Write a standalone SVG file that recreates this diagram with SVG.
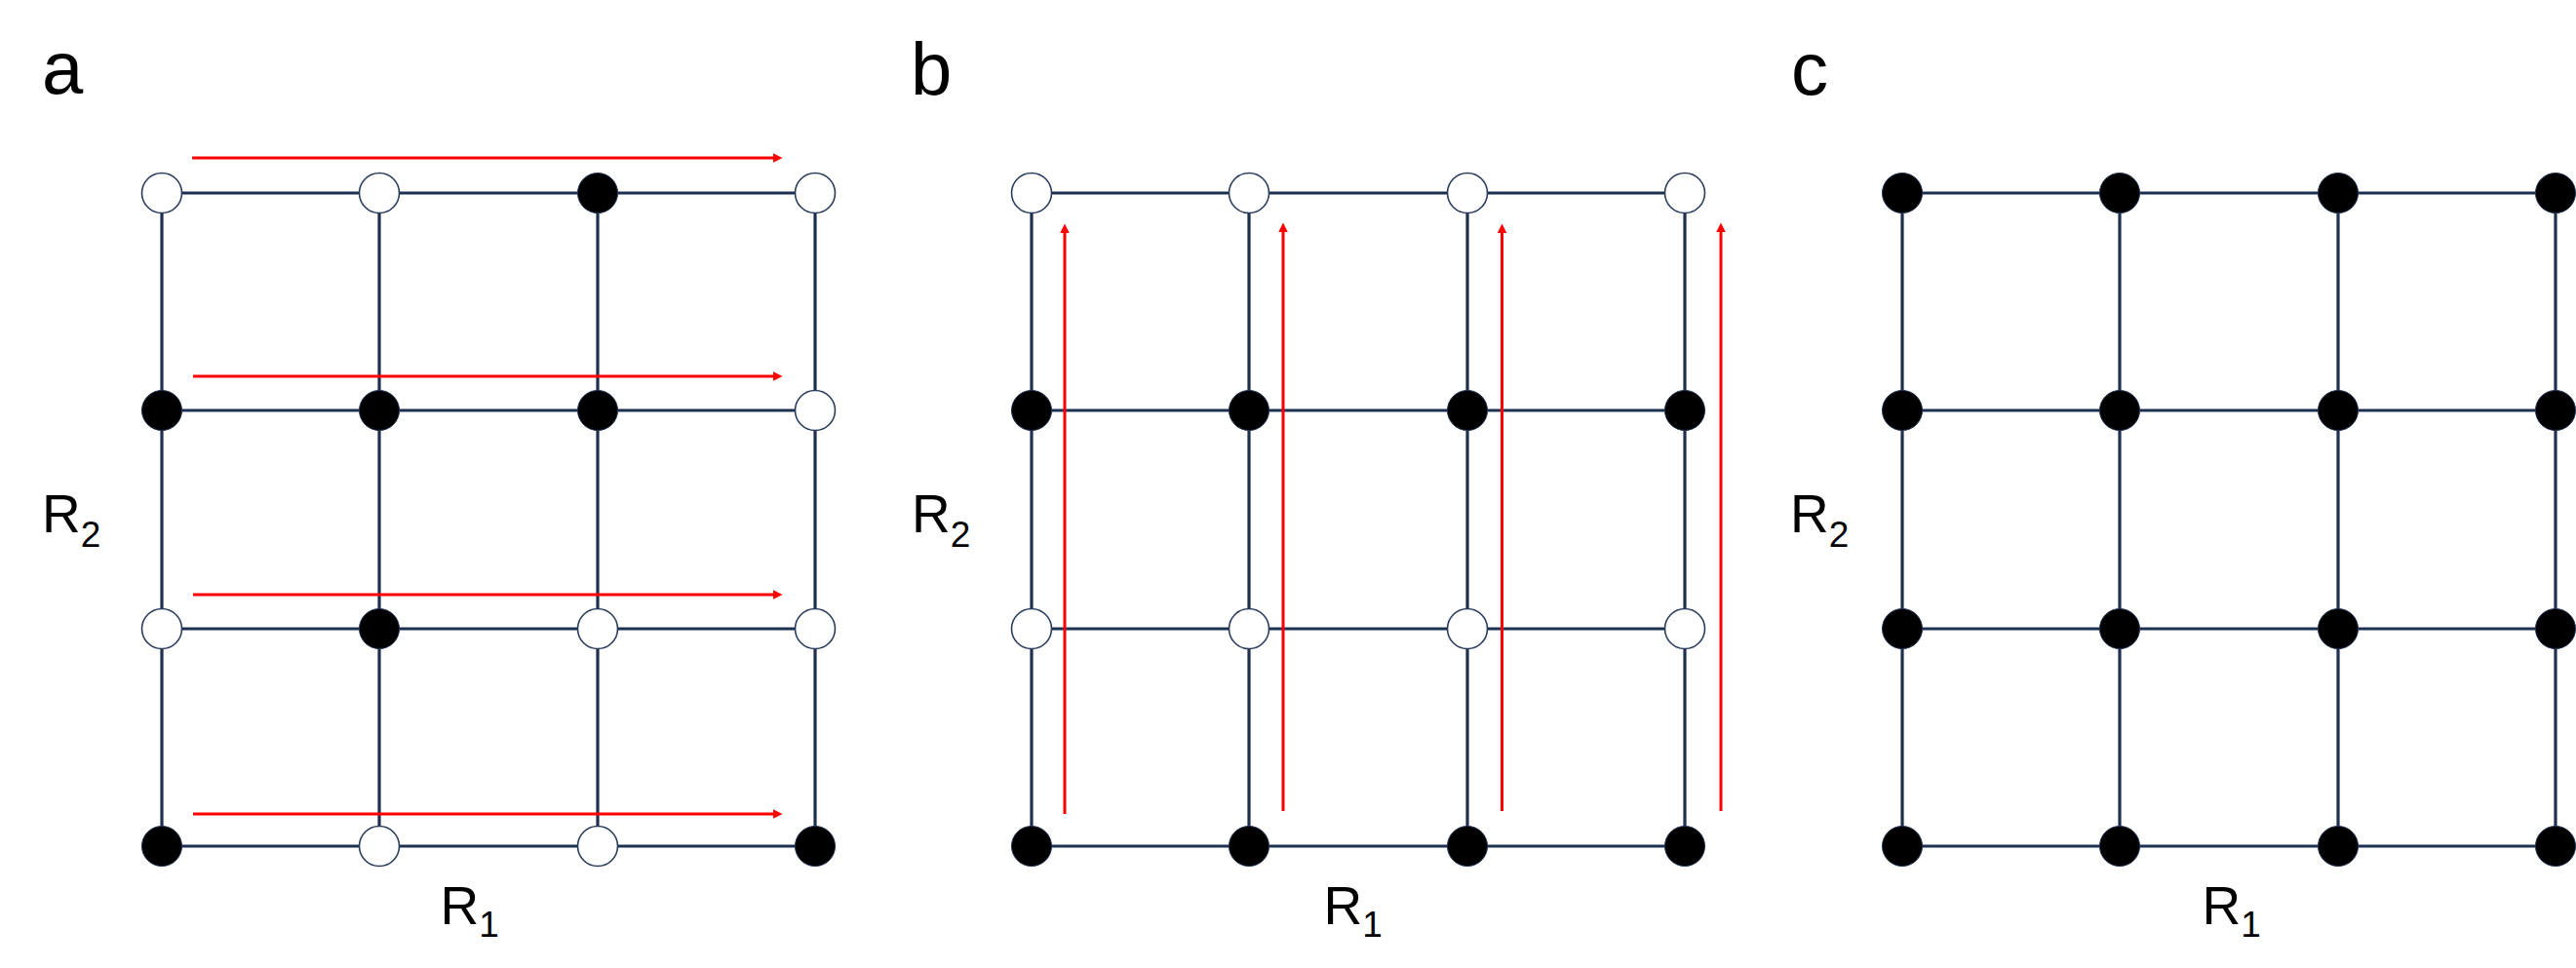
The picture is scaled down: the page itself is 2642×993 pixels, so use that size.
<svg xmlns="http://www.w3.org/2000/svg" width="2642" height="993" viewBox="0 0 2642 993">
<style>
.bg{fill:#fff}
.grid{stroke:#1E3050;stroke-width:3.2;fill:none}
.red{stroke:#FF0000;stroke-width:3;fill:none;marker-end:url(#ah)}
.w{fill:#fff;stroke:#2A3C5E;stroke-width:1.6}
.k{fill:#000;stroke:#1E3050;stroke-width:1}
.lbl{font-family:"Liberation Sans",Arial,sans-serif;fill:#000}
.pl{font-size:76px}
.ax{font-size:55px}
.sub{font-size:37px}
</style>
<defs>
<marker id="ah" markerUnits="userSpaceOnUse" markerWidth="10" markerHeight="10" refX="3" refY="4.75" orient="auto" overflow="visible">
<path d="M0,0 L9.5,4.75 L0,9.5 z" fill="#FF0000"/>
</marker>
</defs>
<rect class="bg" x="0" y="0" width="2642" height="993"/>
<g id="connectors">
<g id="grid-a" class="grid">
<path d="M166,198H836M166,421H836M166,645H836M166,868H836M166,198V868M389,198V868M613,198V868M836,198V868"/>
</g>
<g id="grid-b" class="grid">
<path d="M1058,198H1728M1058,421H1728M1058,645H1728M1058,868H1728M1058,198V868M1281,198V868M1505,198V868M1728,198V868"/>
</g>
<g id="grid-c" class="grid">
<path d="M1951,198H2621M1951,421H2621M1951,645H2621M1951,868H2621M1951,198V868M2174,198V868M2398,198V868M2621,198V868"/>
</g>
<g id="arrows-a">
<line class="red" x1="197" y1="162" x2="796" y2="162"/>
<line class="red" x1="198" y1="386" x2="796" y2="386"/>
<line class="red" x1="198" y1="610" x2="796" y2="610"/>
<line class="red" x1="198" y1="835" x2="796" y2="835"/>
</g>
<g id="arrows-b">
<line class="red" x1="1092" y1="835" x2="1092" y2="236"/>
<line class="red" x1="1316" y1="832" x2="1316" y2="235"/>
<line class="red" x1="1540.5" y1="832" x2="1540.5" y2="236"/>
<line class="red" x1="1765" y1="832" x2="1765" y2="235"/>
</g>
</g>
<g id="nodes-a">
<g id="a-r1c1"><circle class="w" cx="166" cy="198" r="20.5"/></g>
<g id="a-r1c2"><circle class="w" cx="389" cy="198" r="20.5"/></g>
<g id="a-r1c3"><circle class="k" cx="613" cy="198" r="20.5"/></g>
<g id="a-r1c4"><circle class="w" cx="836" cy="198" r="20.5"/></g>
<g id="a-r2c1"><circle class="k" cx="166" cy="421" r="20.5"/></g>
<g id="a-r2c2"><circle class="k" cx="389" cy="421" r="20.5"/></g>
<g id="a-r2c3"><circle class="k" cx="613" cy="421" r="20.5"/></g>
<g id="a-r2c4"><circle class="w" cx="836" cy="421" r="20.5"/></g>
<g id="a-r3c1"><circle class="w" cx="166" cy="645" r="20.5"/></g>
<g id="a-r3c2"><circle class="k" cx="389" cy="645" r="20.5"/></g>
<g id="a-r3c3"><circle class="w" cx="613" cy="645" r="20.5"/></g>
<g id="a-r3c4"><circle class="w" cx="836" cy="645" r="20.5"/></g>
<g id="a-r4c1"><circle class="k" cx="166" cy="868" r="20.5"/></g>
<g id="a-r4c2"><circle class="w" cx="389" cy="868" r="20.5"/></g>
<g id="a-r4c3"><circle class="w" cx="613" cy="868" r="20.5"/></g>
<g id="a-r4c4"><circle class="k" cx="836" cy="868" r="20.5"/></g>
</g>
<g id="nodes-b">
<g id="b-r1c1"><circle class="w" cx="1058" cy="198" r="20.5"/></g>
<g id="b-r1c2"><circle class="w" cx="1281" cy="198" r="20.5"/></g>
<g id="b-r1c3"><circle class="w" cx="1505" cy="198" r="20.5"/></g>
<g id="b-r1c4"><circle class="w" cx="1728" cy="198" r="20.5"/></g>
<g id="b-r2c1"><circle class="k" cx="1058" cy="421" r="20.5"/></g>
<g id="b-r2c2"><circle class="k" cx="1281" cy="421" r="20.5"/></g>
<g id="b-r2c3"><circle class="k" cx="1505" cy="421" r="20.5"/></g>
<g id="b-r2c4"><circle class="k" cx="1728" cy="421" r="20.5"/></g>
<g id="b-r3c1"><circle class="w" cx="1058" cy="645" r="20.5"/></g>
<g id="b-r3c2"><circle class="w" cx="1281" cy="645" r="20.5"/></g>
<g id="b-r3c3"><circle class="w" cx="1505" cy="645" r="20.5"/></g>
<g id="b-r3c4"><circle class="w" cx="1728" cy="645" r="20.5"/></g>
<g id="b-r4c1"><circle class="k" cx="1058" cy="868" r="20.5"/></g>
<g id="b-r4c2"><circle class="k" cx="1281" cy="868" r="20.5"/></g>
<g id="b-r4c3"><circle class="k" cx="1505" cy="868" r="20.5"/></g>
<g id="b-r4c4"><circle class="k" cx="1728" cy="868" r="20.5"/></g>
</g>
<g id="nodes-c">
<g id="c-r1c1"><circle class="k" cx="1951" cy="198" r="20.5"/></g>
<g id="c-r1c2"><circle class="k" cx="2174" cy="198" r="20.5"/></g>
<g id="c-r1c3"><circle class="k" cx="2398" cy="198" r="20.5"/></g>
<g id="c-r1c4"><circle class="k" cx="2621" cy="198" r="20.5"/></g>
<g id="c-r2c1"><circle class="k" cx="1951" cy="421" r="20.5"/></g>
<g id="c-r2c2"><circle class="k" cx="2174" cy="421" r="20.5"/></g>
<g id="c-r2c3"><circle class="k" cx="2398" cy="421" r="20.5"/></g>
<g id="c-r2c4"><circle class="k" cx="2621" cy="421" r="20.5"/></g>
<g id="c-r3c1"><circle class="k" cx="1951" cy="645" r="20.5"/></g>
<g id="c-r3c2"><circle class="k" cx="2174" cy="645" r="20.5"/></g>
<g id="c-r3c3"><circle class="k" cx="2398" cy="645" r="20.5"/></g>
<g id="c-r3c4"><circle class="k" cx="2621" cy="645" r="20.5"/></g>
<g id="c-r4c1"><circle class="k" cx="1951" cy="868" r="20.5"/></g>
<g id="c-r4c2"><circle class="k" cx="2174" cy="868" r="20.5"/></g>
<g id="c-r4c3"><circle class="k" cx="2398" cy="868" r="20.5"/></g>
<g id="c-r4c4"><circle class="k" cx="2621" cy="868" r="20.5"/></g>
</g>
<g id="labels">
<text class="lbl pl" x="43" y="96">a</text>
<text class="lbl pl" x="934" y="97">b</text>
<text class="lbl pl" x="1837" y="97">c</text>
<text class="lbl ax" x="43" y="546">R<tspan class="sub" dy="15">2</tspan></text>
<text class="lbl ax" x="935" y="546">R<tspan class="sub" dy="15">2</tspan></text>
<text class="lbl ax" x="1836" y="546">R<tspan class="sub" dy="15">2</tspan></text>
<text class="lbl ax" x="451.5" y="948">R<tspan class="sub" dy="13">1</tspan></text>
<text class="lbl ax" x="1357.5" y="948">R<tspan class="sub" dy="13">1</tspan></text>
<text class="lbl ax" x="2258.5" y="948">R<tspan class="sub" dy="13">1</tspan></text>
</g>
</svg>
